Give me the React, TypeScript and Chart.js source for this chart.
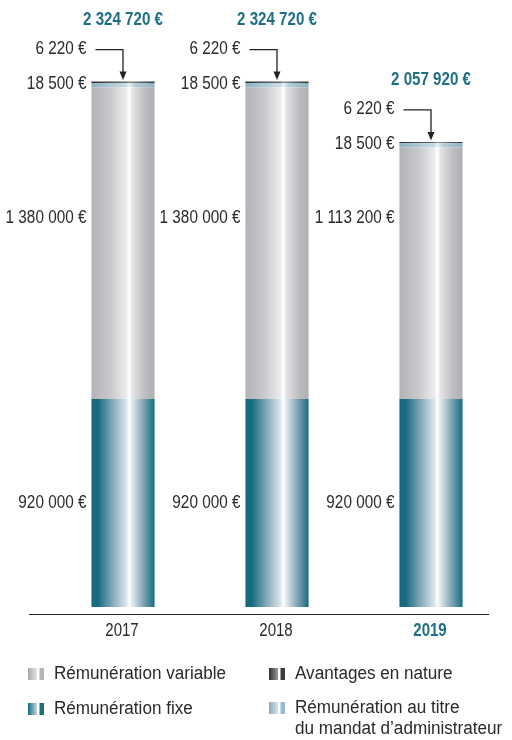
import React, { useEffect, useRef } from "react";
import { Chart, registerables } from "chart.js";

Chart.register(...registerables);

const YEARS = ["2017", "2018", "2019"];
const FIXE = [920000, 920000, 920000];
const VARIABLE = [1380000, 1380000, 1113200];
const ADMIN = [18500, 18500, 18500];
const AVANTAGES = [6220, 6220, 6220];
const Y_MAX = 2500000;
const VAR_LABEL_VALUE = 1720000;

const LEGEND_ITEMS = [
  { key: "variable", lines: ["Rémunération variable"] },
  { key: "fixe", lines: ["Rémunération fixe"] },
  { key: "avantages", lines: ["Avantages en nature"] },
  { key: "admin", lines: ["Rémunération au titre", "du mandat d\u2019administrateur"] },
];

const FONT = "'Liberation Sans', Arial, sans-serif";
const TEAL = "#1e6f86";
const TEXT = "#2a2a2a";
const BAR_PCT = 0.41;

type Stop = [number, string];
const GRADS: Record<string, Stop[]> = {
  fixe: [
    [0, "#146a80"], [0.1, "#176b81"], [0.35, "#8badbd"], [0.55, "#d9e5eb"],
    [0.6, "#ffffff"], [0.64, "#e4ecf0"], [0.8, "#8eadbc"], [1, "#166b81"],
  ],
  variable: [
    [0, "#b2b3b7"], [0.3, "#c8c9cc"], [0.55, "#ececed"], [0.6, "#ffffff"],
    [0.65, "#e3e3e5"], [0.85, "#bcbdc0"], [1, "#aeafb3"],
  ],
  admin: [
    [0, "#8db2c4"], [0.55, "#c9dbe4"], [0.6, "#e8f0f4"], [0.7, "#b3cbd7"], [1, "#8db2c4"],
  ],
  avantages: [
    [0, "#2e2e30"], [0.55, "#6a6a6c"], [0.6, "#8a8a8c"], [1, "#333335"],
  ],
};
const SOLID: Record<string, string> = {
  fixe: "#146a80", variable: "#c0c1c4", admin: "#9bbccb", avantages: "#3a3a3c",
};
const SWATCH: Record<string, Stop[]> = {
  fixe: [[0, "#146a80"], [1, "#c9d9e1"]],
  variable: [[0, "#a9aaae"], [1, "#e4e4e6"]],
  avantages: [[0, "#2f2f31"], [1, "#9a9a9c"]],
  admin: [[0, "#86abbd"], [1, "#d4e2e9"]],
};
const SWATCH_RIGHT: Record<string, string> = {
  fixe: "#1c6e84", variable: "#b4b5b8", avantages: "#3c3c3e", admin: "#9bbccb",
};

function fmt(n: number): string {
  return n.toString().replace(/\B(?=(\d{3})+(?!\d))/g, " ") + " €";
}

function grad(ctx: CanvasRenderingContext2D, x0: number, x1: number, stops: Stop[]) {
  const g = ctx.createLinearGradient(x0, 0, x1, 0);
  stops.forEach(([o, c]) => g.addColorStop(o, c));
  return g;
}

function txt(
  ctx: CanvasRenderingContext2D, s: string, x: number, y: number,
  align: CanvasTextAlign, font: string, color: string, sx: number,
) {
  ctx.save();
  ctx.font = font;
  ctx.fillStyle = color;
  ctx.textAlign = align;
  ctx.textBaseline = "middle";
  ctx.translate(x, y);
  ctx.scale(sx, 1);
  ctx.fillText(s, 0, 0);
  ctx.restore();
}

function bg(key: string) {
  return (c: any) => {
    const chart = c.chart;
    const area = chart.chartArea;
    if (!area || c.dataIndex === undefined || !chart.scales.x) return SOLID[key];
    const cx = chart.scales.x.getPixelForValue(c.dataIndex);
    const w = (area.width / YEARS.length) * BAR_PCT;
    return grad(chart.ctx, cx - w / 2, cx + w / 2, GRADS[key]);
  };
}

const labelsPlugin = {
  id: "customLabels",
  afterDraw(chart: any) {
    const ctx: CanvasRenderingContext2D = chart.ctx;
    const ys = chart.scales.y;
    const xs = chart.scales.x;
    const area = chart.chartArea;
    const w = (area.width / YEARS.length) * BAR_PCT;
    const reg = `18px ${FONT}`;
    const LS = 0.85;
    ctx.save();
    ctx.strokeStyle = "#222";
    ctx.lineWidth = 1.2;
    ctx.beginPath();
    ctx.moveTo(29, area.bottom + 7.5);
    ctx.lineTo(489, area.bottom + 7.5);
    ctx.stroke();

    YEARS.forEach((yr, i) => {
      const cx = xs.getPixelForValue(i);
      const left = cx - w / 2;
      const total = FIXE[i] + VARIABLE[i] + ADMIN[i] + AVANTAGES[i];
      const top = ys.getPixelForValue(total);
      const fixeMid = (ys.getPixelForValue(0) + ys.getPixelForValue(FIXE[i])) / 2;
      const lx = left - 5;
      txt(ctx, fmt(FIXE[i]), lx, fixeMid, "right", reg, TEXT, LS);
      txt(ctx, fmt(VARIABLE[i]), lx, ys.getPixelForValue(VAR_LABEL_VALUE), "right", reg, TEXT, LS);
      txt(ctx, fmt(ADMIN[i]), lx, top + 2, "right", reg, TEXT, LS);
      const avY = top - 33;
      txt(ctx, fmt(AVANTAGES[i]), lx, avY, "right", reg, TEXT, LS);
      ctx.strokeStyle = "#222";
      ctx.lineWidth = 1.3;
      ctx.beginPath();
      ctx.moveTo(lx + 9, avY + 1);
      ctx.lineTo(cx, avY + 1);
      ctx.lineTo(cx, top - 8);
      ctx.stroke();
      ctx.fillStyle = "#222";
      ctx.beginPath();
      ctx.moveTo(cx - 3.5, top - 10);
      ctx.lineTo(cx + 3.5, top - 10);
      ctx.lineTo(cx, top - 1.5);
      ctx.closePath();
      ctx.fill();
      txt(ctx, fmt(total), cx, top - 62, "center", `bold 18px ${FONT}`, TEAL, 0.84);
      const last = i === YEARS.length - 1;
      txt(ctx, yr, cx - 1, area.bottom + 24, "center", `${last ? "bold " : ""}17.5px ${FONT}`, last ? TEAL : TEXT, 0.86);
    });

    const pos = [
      { x: 28, y: 674 },
      { x: 28, y: 709 },
      { x: 269, y: 674 },
      { x: 269, y: 708 },
    ];
    LEGEND_ITEMS.forEach((it, k) => {
      const p = pos[k];
      const sy = p.y - 6;
      ctx.fillStyle = grad(ctx, p.x, p.x + 9, SWATCH[it.key]);
      ctx.fillRect(p.x, sy, 9, 12);
      ctx.fillStyle = SWATCH_RIGHT[it.key];
      ctx.fillRect(p.x + 11.5, sy, 4.5, 12);
      it.lines.forEach((ln, j) => txt(ctx, ln, p.x + 26, p.y + j * 21, "left", `18px ${FONT}`, TEXT, 0.95));
    });
    ctx.restore();
  },
};

export default function App() {
  const ref = useRef<HTMLCanvasElement>(null);
  useEffect(() => {
    if (!ref.current) return;
    const chart = new Chart(ref.current, {
      type: "bar",
      data: {
        labels: YEARS,
        datasets: [
          { label: "Rémunération fixe", data: FIXE, backgroundColor: bg("fixe") as any },
          { label: "Rémunération variable", data: VARIABLE, backgroundColor: bg("variable") as any },
          { label: "Rémunération au titre du mandat d'administrateur", data: ADMIN, backgroundColor: bg("admin") as any },
          { label: "Avantages en nature", data: AVANTAGES, backgroundColor: bg("avantages") as any },
        ],
      },
      options: {
        responsive: false,
        animation: false,
        layout: { padding: { left: 46, right: 4, top: 42, bottom: 133 } },
        datasets: { bar: { barPercentage: BAR_PCT, categoryPercentage: 1, borderWidth: 0 } },
        scales: {
          x: { stacked: true, display: false },
          y: { stacked: true, display: false, min: 0, max: Y_MAX },
        },
        plugins: { legend: { display: false }, tooltip: { enabled: false } },
      },
      plugins: [labelsPlugin],
    });
    return () => chart.destroy();
  }, []);
  return (
    <div style={{ position: "absolute", left: 0, top: 0, width: 512, height: 740, background: "#fff" }}>
      <canvas ref={ref} width={512} height={740} style={{ display: "block" }} />
    </div>
  );
}
